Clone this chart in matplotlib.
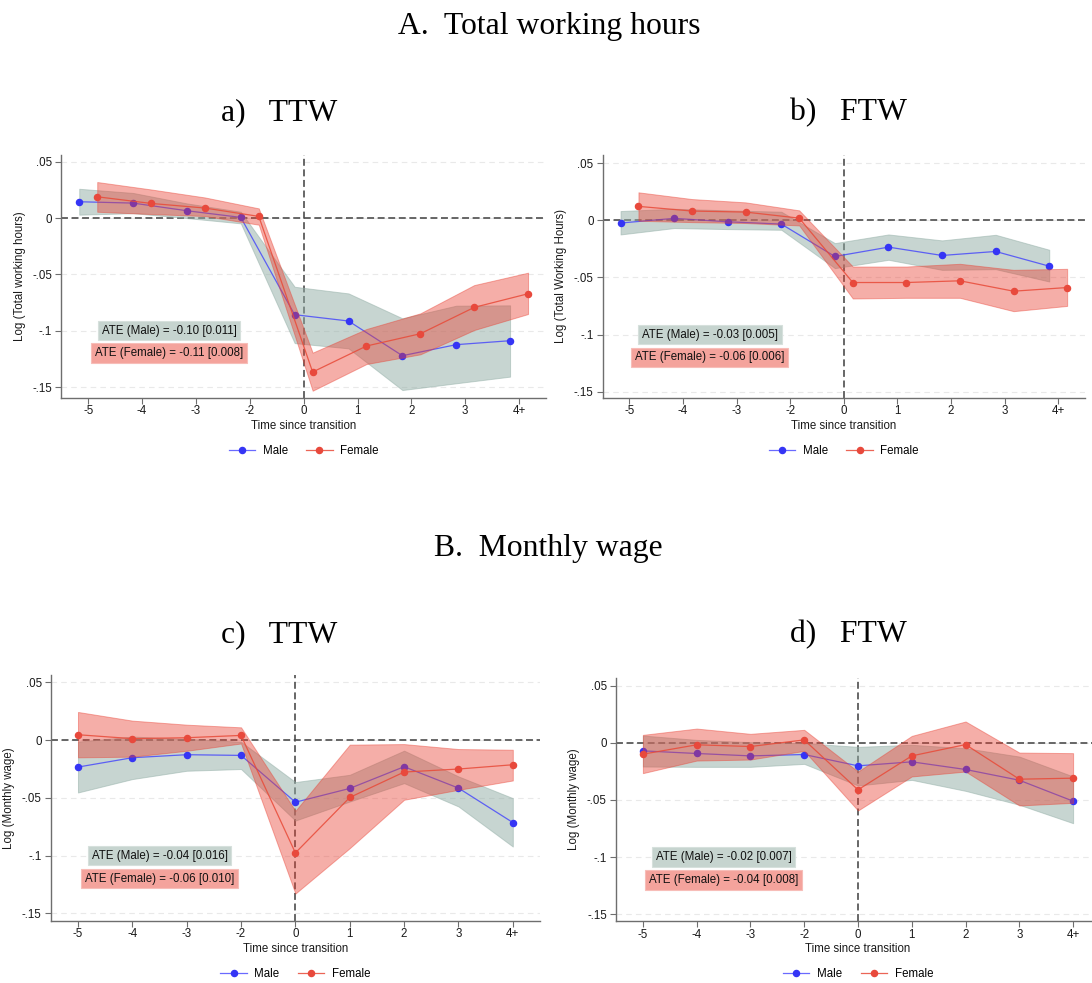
import numpy as np
import matplotlib
matplotlib.use("Agg")
import matplotlib.pyplot as plt

plt.rcParams['font.family'] = ['Liberation Sans', 'DejaVu Sans']
plt.rcParams['lines.scale_dashes'] = False

# ---------------------------------------------------------------- data
periods = ["-5", "-4", "-3", "-2", "0", "1", "2", "3", "4+"]
y_ticks = [0.05, 0.0, -0.05, -0.10, -0.15]
y_tick_labels = [".05", "0", "-.05", "-.1", "-.15"]

# Panel a: total working hours, TTW
hours_ttw_male = [0.0145, 0.0133, 0.0065, 0.0006, -0.0858, -0.0914, -0.1222, -0.1124, -0.1089]
hours_ttw_male_lo = [0.0030, 0.0043, 0.0000, -0.0047, -0.1110, -0.1157, -0.1527, -0.1467, -0.1408]
hours_ttw_male_hi = [0.0260, 0.0223, 0.0130, 0.0056, -0.0610, -0.0669, -0.0890, -0.0778, -0.0775]
hours_ttw_female = [0.0189, 0.0130, 0.0089, 0.0015, -0.1367, -0.1136, -0.1027, -0.0793, -0.0672]
hours_ttw_female_lo = [0.0056, 0.0036, 0.0018, -0.0059, -0.1533, -0.1296, -0.1210, -0.0994, -0.0852]
hours_ttw_female_hi = [0.0320, 0.0254, 0.0183, 0.0086, -0.1195, -0.0985, -0.0846, -0.0595, -0.0485]

# Panel b: total working hours, FTW
hours_ftw_male = [-0.0023, 0.0018, -0.0012, -0.0032, -0.0316, -0.0234, -0.0307, -0.0272, -0.0401]
hours_ftw_male_lo = [-0.0123, -0.0067, -0.0076, -0.0082, -0.0418, -0.0345, -0.0433, -0.0427, -0.0535]
hours_ftw_male_hi = [0.0082, 0.0102, 0.0088, 0.0076, -0.0199, -0.0123, -0.0175, -0.0126, -0.0257]
hours_ftw_female = [0.0123, 0.0082, 0.0073, 0.0020, -0.0544, -0.0544, -0.0529, -0.0620, -0.0588]
hours_ftw_female_lo = [-0.0003, -0.0015, -0.0023, -0.0044, -0.0684, -0.0678, -0.0678, -0.0795, -0.0749]
hours_ftw_female_hi = [0.0246, 0.0187, 0.0158, 0.0088, -0.0404, -0.0404, -0.0380, -0.0433, -0.0424]

# Panel c: monthly wage, TTW
wage_ttw_male = [-0.0234, -0.0153, -0.0127, -0.0133, -0.0538, -0.0419, -0.0231, -0.0416, -0.0714]
wage_ttw_male_lo = [-0.0454, -0.0338, -0.0266, -0.0251, -0.0697, -0.0532, -0.0373, -0.0575, -0.0922]
wage_ttw_male_hi = [-0.0014, 0.0030, 0.0010, -0.0015, -0.0364, -0.0301, -0.0092, -0.0315, -0.0503]
wage_ttw_female = [0.0046, 0.0012, 0.0020, 0.0040, -0.0977, -0.0497, -0.0277, -0.0251, -0.0214]
wage_ttw_female_lo = [-0.0150, -0.0144, -0.0093, -0.0030, -0.1329, -0.0936, -0.0517, -0.0431, -0.0350]
wage_ttw_female_hi = [0.0243, 0.0168, 0.0133, 0.0110, -0.0613, -0.0040, -0.0035, -0.0078, -0.0084]

# Panel d: monthly wage, FTW
wage_ftw_male = [-0.0070, -0.0093, -0.0114, -0.0102, -0.0201, -0.0166, -0.0233, -0.0327, -0.0510]
wage_ftw_male_lo = [-0.0207, -0.0210, -0.0210, -0.0184, -0.0373, -0.0324, -0.0420, -0.0542, -0.0703]
wage_ftw_male_hi = [0.0064, 0.0026, 0.0006, -0.0003, -0.0035, -0.0017, -0.0047, -0.0120, -0.0294]
wage_ftw_female = [-0.0099, -0.0017, -0.0032, 0.0026, -0.0411, -0.0114, -0.0015, -0.0318, -0.0309]
wage_ftw_female_lo = [-0.0265, -0.0155, -0.0146, -0.0070, -0.0592, -0.0294, -0.0251, -0.0548, -0.0525]
wage_ftw_female_hi = [0.0070, 0.0125, 0.0079, 0.0114, -0.0251, 0.0061, 0.0187, -0.0085, -0.0090]

ate_male = ["ATE (Male) = -0.10 [0.011]", "ATE (Male) = -0.03 [0.005]",
            "ATE (Male) = -0.04 [0.016]", "ATE (Male) = -0.02 [0.007]"]
ate_female = ["ATE (Female) = -0.11 [0.008]", "ATE (Female) = -0.06 [0.006]",
              "ATE (Female) = -0.06 [0.010]", "ATE (Female) = -0.04 [0.008]"]
panel_titles = ["a)   TTW", "b)   FTW", "c)   TTW", "d)   FTW"]
y_labels = ["Log (Total working hours)", "Log (Total Working Hours)",
            "Log (Monthly wage)", "Log (Monthly wage)"]
section_titles = ["A.  Total working hours", "B.  Monthly wage"]

# ---------------------------------------------------------------- style
W, H = 1092, 983
FS = 8.3
MALE_BAND = '#91ada5'
FEMALE_BAND = '#e93e30'
MALE_LINE = (0.22, 0.22, 1.0, 0.75)
MALE_MARK = '#3535f5'
FEMALE_LINE = (0.91, 0.29, 0.22, 0.85)
FEMALE_MARK = '#e8493c'
REF_LINE = '#4d4d4d'
SPINE = '#6e6e6e'

fig = plt.figure(figsize=(W / 100, H / 100), dpi=100)
fig.patch.set_facecolor('white')

# pixel boxes (left, right, top, bottom), y-limits and series offsets
layout = [
    dict(box=(61.3, 546.0, 155.0, 397.7), ylim=(-0.1595, 0.0560), off=0.167,
         male=(hours_ttw_male, hours_ttw_male_lo, hours_ttw_male_hi),
         female=(hours_ttw_female, hours_ttw_female_lo, hours_ttw_female_hi)),
    dict(box=(602.7, 1085.0, 155.0, 397.7), ylim=(-0.1553, 0.0573), off=0.167,
         male=(hours_ftw_male, hours_ftw_male_lo, hours_ftw_male_hi),
         female=(hours_ftw_female, hours_ftw_female_lo, hours_ftw_female_hi)),
    dict(box=(50.8, 540.0, 675.0, 920.7), ylim=(-0.1564, 0.0563), off=0.0,
         male=(wage_ttw_male, wage_ttw_male_lo, wage_ttw_male_hi),
         female=(wage_ttw_female, wage_ttw_female_lo, wage_ttw_female_hi)),
    dict(box=(616.0, 1100.0, 678.3, 921.0), ylim=(-0.1559, 0.0565), off=0.0,
         male=(wage_ftw_male, wage_ftw_male_lo, wage_ftw_male_hi),
         female=(wage_ftw_female, wage_ftw_female_lo, wage_ftw_female_hi)),
]

x = np.arange(len(periods))

for i, p in enumerate(layout):
    l, r, t, b = p['box']
    wpx, hpx = r - l, b - t
    ax = fig.add_axes([l / W, 1 - b / H, wpx / W, hpx / H])
    off = p['off']
    m_est, m_lo, m_hi = p['male']
    f_est, f_lo, f_hi = p['female']

    ax.axhline(0, color=REF_LINE, lw=1.2, ls=(0, (5.0, 2.6)), zorder=0.8)
    ax.axvline(periods.index("0"), color=REF_LINE, lw=1.2, ls=(0, (5.0, 2.6)), zorder=0.8)

    ax.fill_between(x - off, m_lo, m_hi, facecolor=MALE_BAND, edgecolor=MALE_BAND,
                    alpha=0.5, lw=0.7, zorder=1)
    ax.plot(x - off, m_est, color=MALE_LINE, lw=0.9, marker='o', ms=4.4,
            mfc=MALE_MARK, mec=MALE_MARK, zorder=2, label='Male')
    ax.fill_between(x + off, f_lo, f_hi, facecolor=FEMALE_BAND, edgecolor=FEMALE_BAND,
                    alpha=0.42, lw=0.7, zorder=3)
    ax.plot(x + off, f_est, color=FEMALE_LINE, lw=0.9, marker='o', ms=4.4,
            mfc=FEMALE_MARK, mec=FEMALE_MARK, zorder=4, label='Female')

    ax.set_xlim(-0.5, len(periods) - 0.5)
    ax.set_ylim(*p['ylim'])
    ax.set_xticks(x)
    ax.set_xticklabels(periods)
    ax.set_yticks(y_ticks)
    ax.set_yticklabels(y_tick_labels)
    ax.grid(axis='y', color='#e9e9e9', lw=0.8, ls=(0, (4, 3)), zorder=0)
    ax.set_axisbelow(True)

    for s in ('top', 'right'):
        ax.spines[s].set_visible(False)
    for s in ('left', 'bottom'):
        ax.spines[s].set_color(SPINE)
        ax.spines[s].set_linewidth(1.0)
    ax.tick_params(axis='both', length=4.0, width=0.8, color=SPINE,
                   labelsize=FS, labelcolor='#1a1a1a')
    ax.tick_params(axis='x', pad=1.4)
    ax.tick_params(axis='y', pad=2.6)

    ax.set_xlabel("Time since transition", fontsize=FS, color='#1a1a1a')
    ax.xaxis.set_label_coords(0.5, -22.3 / hpx)
    ax.set_ylabel(y_labels[i], fontsize=FS, color='#1a1a1a')
    ax.yaxis.set_label_coords(-35.5 / wpx, 0.5)

    ax.text(1.5, -0.10, ate_male[i], ha='center', va='center', fontsize=FS,
            color='#111111', zorder=6,
            bbox=dict(boxstyle='square,pad=0.33', fc='#c6d4cf', ec='#d6e0dc', lw=0.8))
    ax.text(1.5, -0.12, ate_female[i], ha='center', va='center', fontsize=FS,
            color='#111111', zorder=6,
            bbox=dict(boxstyle='square,pad=0.33', fc='#f4a39c', ec='#f7bdb8', lw=0.8))

    ax.legend(loc='center', bbox_to_anchor=(0.5, -53.2 / hpx), ncol=2, frameon=False,
              fontsize=FS, handlelength=2.3, handletextpad=0.65, columnspacing=1.6,
              numpoints=1)

title_kw = dict(family=['Liberation Serif', 'DejaVu Serif'], size=22.8, ha='center',
                va='baseline', color='black')
fig.text(548.8 / W, 1 - 34.0 / H, section_titles[0], **title_kw)
fig.text(548.5 / W, 1 - 556.0 / H, section_titles[1], **title_kw)
fig.text(279 / W, 1 - 120.5 / H, panel_titles[0], **title_kw)
fig.text(848 / W, 1 - 120.5 / H, panel_titles[1], **title_kw)
fig.text(279 / W, 1 - 642.5 / H, panel_titles[2], **title_kw)
fig.text(848 / W, 1 - 642.5 / H, panel_titles[3], **title_kw)

fig.savefig("out.png", dpi=100, facecolor='white')
